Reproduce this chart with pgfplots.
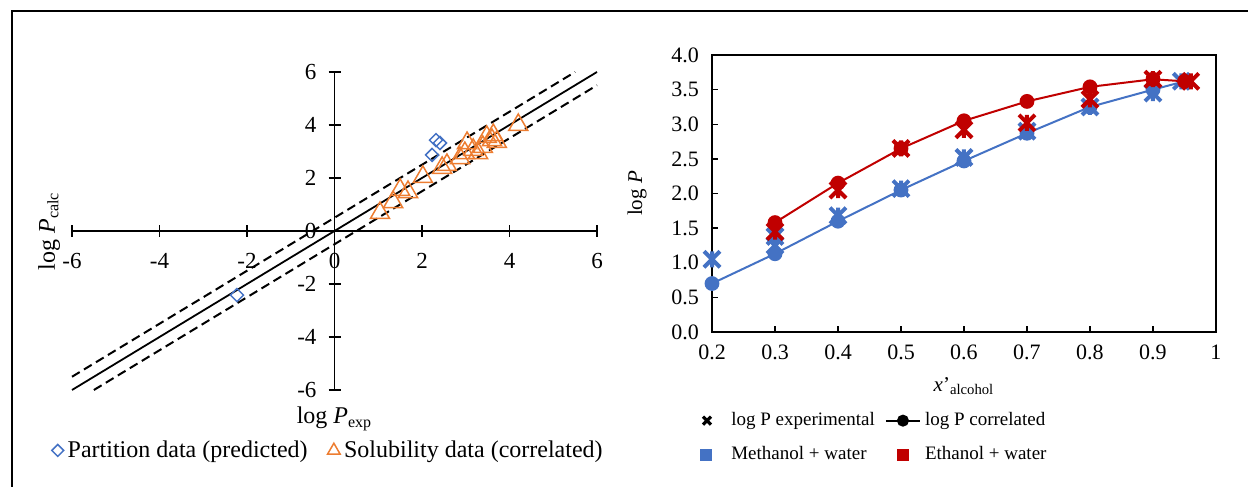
\documentclass[border=0pt]{standalone}
\usepackage{fontspec}
\setmainfont{Liberation Serif}
\usepackage{pgfplots}
\pgfplotsset{compat=1.18}
\definecolor{mblue}{RGB}{68,114,196}
\definecolor{ered}{RGB}{192,0,0}
\definecolor{sorange}{RGB}{237,125,49}
\pgfdeclareplotmark{xstar}{%
  \pgfpathmoveto{\pgfqpoint{-\pgfplotmarksize}{-\pgfplotmarksize}}%
  \pgfpathlineto{\pgfqpoint{\pgfplotmarksize}{\pgfplotmarksize}}%
  \pgfpathmoveto{\pgfqpoint{-\pgfplotmarksize}{\pgfplotmarksize}}%
  \pgfpathlineto{\pgfqpoint{\pgfplotmarksize}{-\pgfplotmarksize}}%
  \pgfpathmoveto{\pgfqpoint{0pt}{-\pgfplotmarksize}}%
  \pgfpathlineto{\pgfqpoint{0pt}{\pgfplotmarksize}}%
  \pgfusepathqstroke}
\begin{document}
\begin{tikzpicture}
\useasboundingbox (0,0) rectangle (624pt,243.5pt);
\draw[line width=1.1pt] (6pt,0) -- (6pt,238pt) -- (624pt,238pt);

% ---------------- left panel ----------------
\begin{axis}[
  at={(36pt,48.5pt)}, anchor=south west, scale only axis,
  width=262.5pt, height=159pt,
  xmin=-6, xmax=6, ymin=-6, ymax=6,
  axis lines=middle, axis line style={line width=0.8pt,-},
  xtick={-6,-4,-2,0,2,4,6}, ytick={-6,-4,-2,0,2,4,6},
  hide obscured x ticks=false, hide obscured y ticks=false,
  tick align=center, major tick length=6pt, tick style={black,line width=0.8pt},
  /pgf/number format/assume math mode=true,
  tick label style={font=\fontsize{11.5}{13}\selectfont},
  xticklabel style={yshift=-4.5pt},
  yticklabel style={xshift=-2.5pt},
  xlabel={log \textit{P}\textsubscript{exp}},
  ylabel={log \textit{P}\textsubscript{calc}},
  label style={font=\fontsize{12}{14}\selectfont},
  xlabel style={at={(axis description cs:0.5,0)}, anchor=north, yshift=-5pt},
  ylabel style={at={(axis description cs:0,0.5)}, anchor=south, rotate=90, yshift=2.5pt},
  legend columns=2,
  legend style={at={(0.49,-0.19)}, anchor=center, draw=none, fill=none,
    font=\fontsize{12}{14}\selectfont,
    /tikz/every even column/.append style={column sep=8pt}},
  legend cell align=left,
  clip=false,
]
\addplot[black, line width=0.9pt, forget plot] coordinates {(-6,-6) (6,6)};
\addplot[black, dash pattern=on 4.5pt off 2.5pt, line width=1pt, forget plot] coordinates {(-6,-5.5) (5.5,6)};
\addplot[black, dash pattern=on 4.5pt off 2.5pt, line width=1pt, forget plot] coordinates {(-5.5,-6) (6,5.5)};
\addplot[only marks, mark=square, mark size=2.3pt, mark options={rotate=45, mblue, line width=0.75pt},
  legend image post style={mark size=2.1pt}]
 coordinates {(-2.23,-2.42) (2.32,3.43) (2.41,3.32) (2.23,2.87)};
\addlegendentry{Partition data (predicted)}
\addplot[only marks, mark=triangle, mark size=5.5pt, mark options={sorange, line width=0.75pt},
  legend image post style={mark size=3.6pt}]
 coordinates {
 (1.04,0.68) (1.34,1.09) (1.50,1.55) (1.68,1.47) (2.02,2.04)
 (2.46,2.38) (2.57,2.49) (2.87,2.75) (2.98,2.94) (3.03,3.32)
 (3.17,3.06) (3.28,2.94) (3.39,3.17) (3.48,3.55) (3.60,3.43)
 (3.63,3.62) (3.71,3.36) (4.20,4.00)};
\addlegendentry{Solubility data (correlated)}
\end{axis}

% ---------------- right panel ----------------
\begin{axis}[
  at={(356pt,77.5pt)}, anchor=south west, scale only axis,
  width=252pt, height=138.5pt,
  xmin=0.2, xmax=1, ymin=0, ymax=4,
  xtick={0.2,0.3,0.4,0.5,0.6,0.7,0.8,0.9,1},
  xticklabels={0.2,0.3,0.4,0.5,0.6,0.7,0.8,0.9,1},
  ytick={0,0.5,1,1.5,2,2.5,3,3.5,4},
  yticklabels={0.0,0.5,1.0,1.5,2.0,2.5,3.0,3.5,4.0},
  xtick pos=bottom, ytick pos=left,
  tick align=inside, major tick length=3pt,
  axis line style={line width=0.9pt}, tick style={black,line width=0.7pt},
  tick label style={font=\fontsize{11}{13}\selectfont},
  xticklabel style={yshift=-3pt},
  yticklabel style={xshift=-3pt},
  xlabel={\textit{x}'\textsubscript{alcohol}},
  ylabel={log \textit{P}},
  label style={font=\fontsize{10.5}{12}\selectfont},
  xlabel style={yshift=-2pt},
  ylabel style={yshift=5.5pt},
  legend columns=2,
  legend style={at={(-0.025,-0.275)}, anchor=north west, draw=none, fill=none,
    font=\fontsize{9.5}{12}\selectfont, row sep=5pt, inner sep=0pt,
    /tikz/every even column/.append style={column sep=3pt}},
  legend cell align=left,
]
\addlegendimage{legend image code/.code={
  \draw[black,line width=1.6pt] (0.12cm-2pt,-2pt)--(0.12cm+2pt,2pt) (0.12cm-2pt,2pt)--(0.12cm+2pt,-2pt);
  \path (0cm,0cm) (0.47cm,0cm);}}
\addlegendentry{log P experimental}
\addlegendimage{black, line width=1pt, mark=*, mark size=2.5pt}
\addlegendentry{log P correlated}
\addlegendimage{legend image code/.code={
  \fill[mblue] (0.1cm-2.6pt,-2.6pt) rectangle (0.1cm+2.6pt,2.6pt);
  \path (0cm,0cm) (0.32cm,0cm);}}
\addlegendentry{Methanol + water}
\addlegendimage{legend image code/.code={
  \fill[ered] (0.3cm-2.6pt,-2.6pt) rectangle (0.3cm+2.6pt,2.6pt);
  \path (0cm,0cm) (0.6cm,0cm);}}
\addlegendentry{Ethanol + water}

\addplot[mblue, line width=1pt, mark=*, mark size=3.2pt, forget plot] coordinates {
 (0.2,0.70) (0.3,1.13) (0.4,1.60) (0.5,2.05) (0.6,2.47) (0.7,2.87) (0.8,3.25) (0.9,3.50) (0.95,3.62)};
\addplot[only marks, mark=xstar, mark size=4pt, mark options={mblue, line width=2pt}, forget plot] coordinates {
 (0.2,1.05) (0.3,1.25) (0.3,1.38) (0.4,1.68) (0.5,2.07) (0.6,2.52) (0.7,2.90) (0.8,3.25) (0.9,3.45) (0.945,3.62)};
\addplot[ered, line width=1pt, mark=*, mark size=3.2pt, forget plot] coordinates {
 (0.3,1.58) (0.4,2.15) (0.5,2.65) (0.6,3.05) (0.7,3.33) (0.8,3.54) (0.9,3.65) (0.95,3.62)};
\addplot[only marks, mark=xstar, mark size=4pt, mark options={ered, line width=2pt}, forget plot] coordinates {
 (0.3,1.45) (0.4,2.05) (0.5,2.65) (0.6,2.92) (0.7,3.02) (0.8,3.36) (0.9,3.65) (0.96,3.62)};
\end{axis}
\end{tikzpicture}
\end{document}
